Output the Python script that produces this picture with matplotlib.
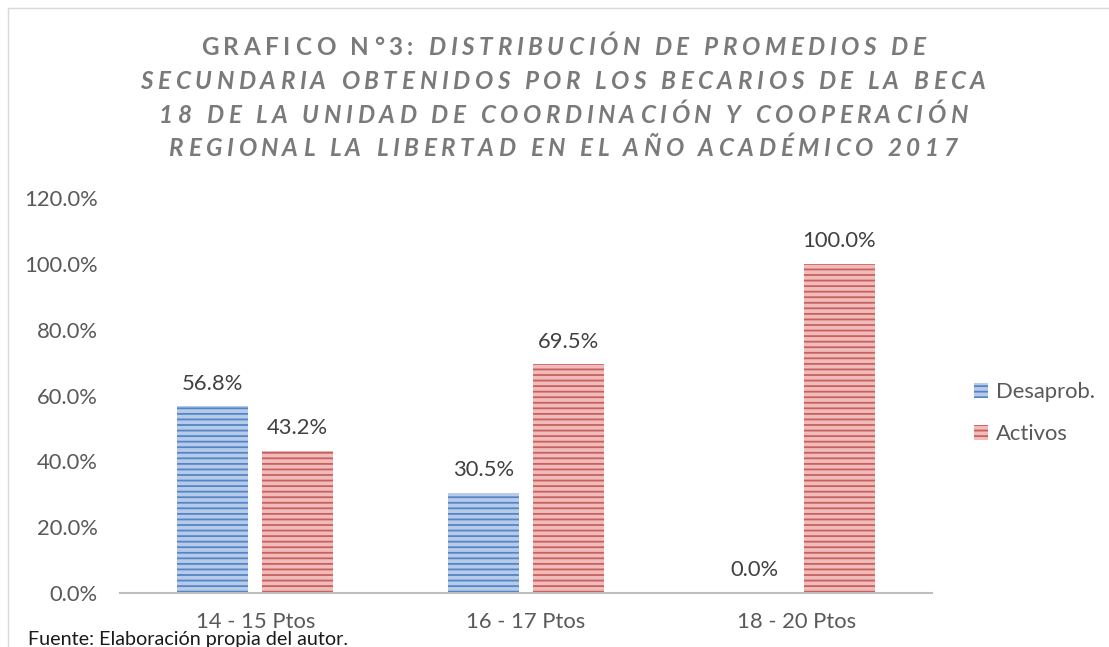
import matplotlib
matplotlib.use('Agg')
import matplotlib.pyplot as plt
from matplotlib.font_manager import FontProperties
from matplotlib.lines import Line2D
import numpy as np

categories = ['14 - 15 Ptos', '16 - 17 Ptos', '18 - 20 Ptos']
desaprob = [56.8, 30.5, 0.0]
activos = [43.2, 69.5, 100.0]
series_names = ['Desaprob.', 'Activos']
yticks = [0, 20, 40, 60, 80, 100, 120]
title_lines = [
    [('GRAFICO N°3: ', 'normal'), ('DISTRIBUCIÓN DE PROMEDIOS DE', 'italic')],
    [('SECUNDARIA OBTENIDOS POR LOS BECARIOS DE LA BECA', 'italic')],
    [('18 DE LA UNIDAD DE COORDINACIÓN Y COOPERACIÓN', 'italic')],
    [('REGIONAL LA LIBERTAD EN EL AÑO ACADÉMICO 2017', 'italic')],
]
source_text = 'Fuente: Elaboración propia del autor.'

FONT = 'Lato'
FS = 15.8
plt.rcParams['font.family'] = [FONT, 'DejaVu Sans']
plt.rcParams['hatch.linewidth'] = 1.3

W, H = 1109, 647
fig = plt.figure(figsize=(W / 100, H / 100), dpi=100)
fig.patch.set_facecolor('white')

# outer chart frame (partially visible)
fig.add_artist(Line2D([8 / W, 1.0], [1 - 8 / H, 1 - 8 / H], transform=fig.transFigure,
                      color='#d9d9d9', lw=1))
fig.add_artist(Line2D([8 / W, 8 / W], [1 - 8 / H, 0], transform=fig.transFigure,
                      color='#d9d9d9', lw=1))

ax = fig.add_axes([120 / W, 1 - 593 / H, 812 / W, 395 / H])
x = np.arange(len(categories))
bw, off = 0.262, 0.157
b1 = ax.bar(x - off, desaprob, bw, facecolor='#b6cbea', edgecolor='#5485c4',
            linewidth=0, hatch='---', label=series_names[0])
b2 = ax.bar(x + off, activos, bw, facecolor='#efbcbb', edgecolor='#c9605d',
            linewidth=0, hatch='---', label=series_names[1])

for bars, vals in ((b1, desaprob), (b2, activos)):
    for rect, v in zip(bars, vals):
        ax.annotate(f'{v:.1f}%', (rect.get_x() + rect.get_width() / 2, v),
                    xytext=(0, 9), textcoords='offset points', ha='center', va='bottom',
                    fontsize=FS, color='#404040')

ax.set_xlim(-0.5, 2.5)
ax.set_ylim(0, 120)
ax.set_yticks(yticks)
ax.set_yticklabels([f'{v:.1f}%' for v in yticks])
ax.set_xticks(x)
ax.set_xticklabels(categories)
for s in ('top', 'right', 'left'):
    ax.spines[s].set_visible(False)
ax.spines['bottom'].set_color('#bfbfbf')
ax.spines['bottom'].set_linewidth(1.5)
ax.tick_params(axis='both', length=0, labelsize=FS, colors='#595959')
ax.tick_params(axis='y', pad=16)
ax.tick_params(axis='x', pad=14)

fig.legend(handles=[b1, b2], labels=series_names, loc='center left',
           bbox_to_anchor=(954 / W, 1 - 413 / H), frameon=False, fontsize=FS,
           handlelength=0.65, handleheight=0.65, handletextpad=0.35,
           labelspacing=1.0, labelcolor='#595959')


def draw_spaced(segments, cx_px, baseline_px, size, spacing, color):
    r = fig.canvas.get_renderer()
    items = []
    for text, style in segments:
        fp = FontProperties(family=[FONT, 'DejaVu Sans'], weight='bold', style=style, size=size)
        for ch in text:
            if ch == ' ':
                w = (r.get_text_width_height_descent('H H', fp, ismath=False)[0]
                     - r.get_text_width_height_descent('HH', fp, ismath=False)[0])
            else:
                w = r.get_text_width_height_descent(ch, fp, ismath=False)[0]
            items.append((ch, fp, w))
    total = sum(w for _, _, w in items) + spacing * (len(items) - 1)
    xx = cx_px - total / 2
    for ch, fp, w in items:
        if ch != ' ':
            fig.text(xx / W, 1 - baseline_px / H, ch, fontproperties=fp, color=color,
                     ha='left', va='baseline')
        xx += w + spacing


baselines = [55, 89, 123, 156]
for segs, bl in zip(title_lines, baselines):
    draw_spaced(segs, 563, bl, 17.5, 4.6, '#7a7a7a')

fig.text(28 / W, 1 - 640 / H, source_text, fontsize=14.2, color='#1a1a1a',
         ha='left', va='center')

fig.savefig('out.png', dpi=100, facecolor='white')
